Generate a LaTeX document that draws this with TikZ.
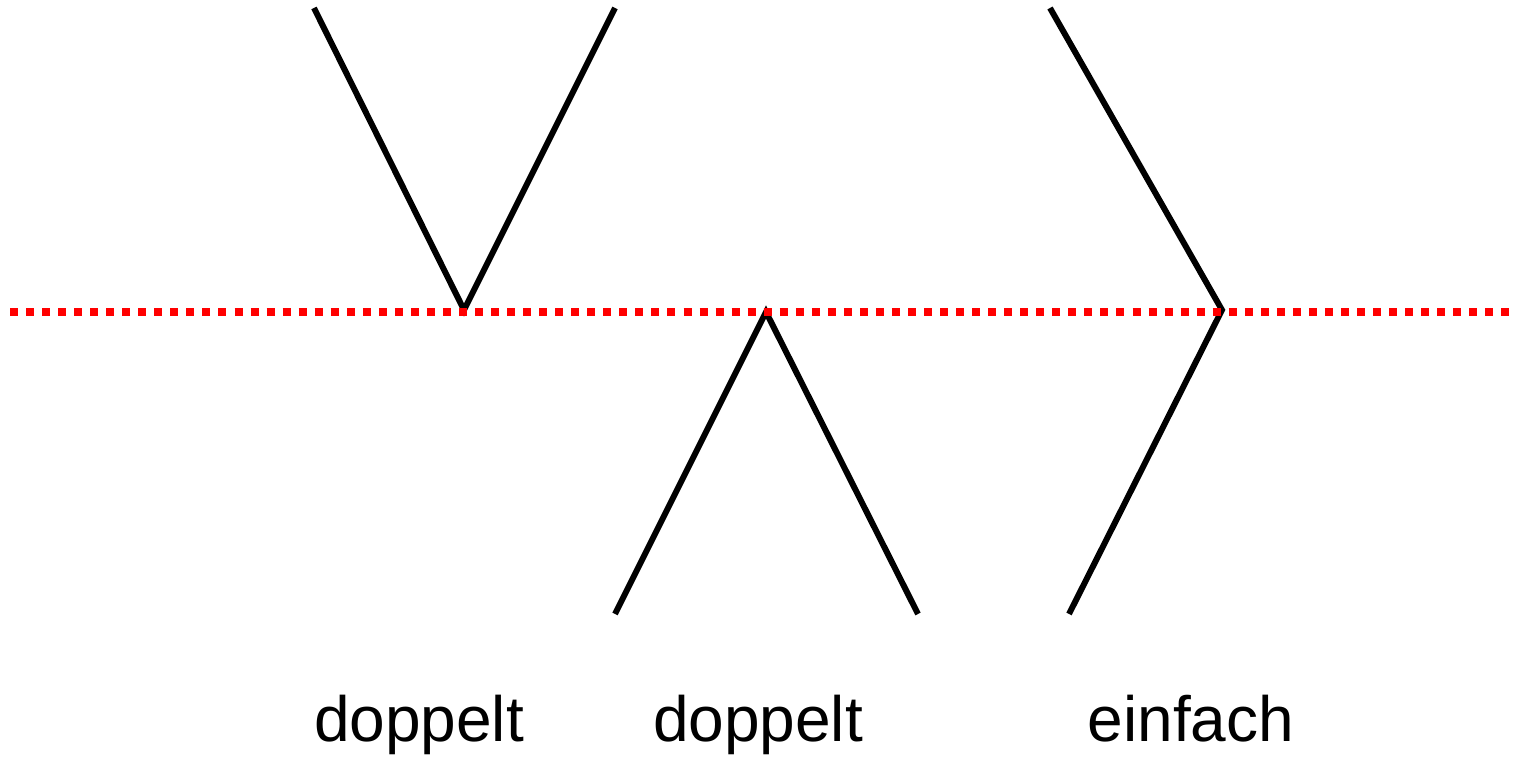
\documentclass[tikz,border=0pt]{standalone}
\usepackage{fontspec}
\setmainfont{Liberation Sans}
\usepackage{xcolor}

\begin{document}
\begin{tikzpicture}
    [x=0.01cm,y=-0.01cm,
     wing/.style={draw,line width=1.7pt},
     axis/.style={draw=red,line width=2.28pt,dash pattern=on 2.28pt off 2.28pt},
     label/.style={anchor=base,font=\fontsize{18.2}{22}\selectfont}]
\useasboundingbox (0,0) rectangle (1514,758);
\path
    (314,8) coordinate (v1a)
    (464,310) coordinate (v1tip)
    (615,8) coordinate (v1b)
    (615,614) coordinate (v2a)
    (766,312) coordinate (v2tip)
    (918,614) coordinate (v2b)
    (1050,8) coordinate (v3a)
    (1222,310) coordinate (v3tip)
    (1069,614) coordinate (v3b)
    (10,312) coordinate (left)
    (1514,312) coordinate (right);
\draw [wing] (v1a) -- (v1tip) -- (v1b);
\draw [wing] (v2a) -- (v2tip) -- (v2b);
\draw [wing] (v3a) -- (v3tip) -- (v3b);
\draw [axis] (left) -- (right);
\node [label] (lab1) at (419,742) {doppelt};
\node [label] (lab2) at (758,742) {doppelt};
\node [label] (lab3) at (1191,742) {einfach};
\end{tikzpicture}
\end{document}
